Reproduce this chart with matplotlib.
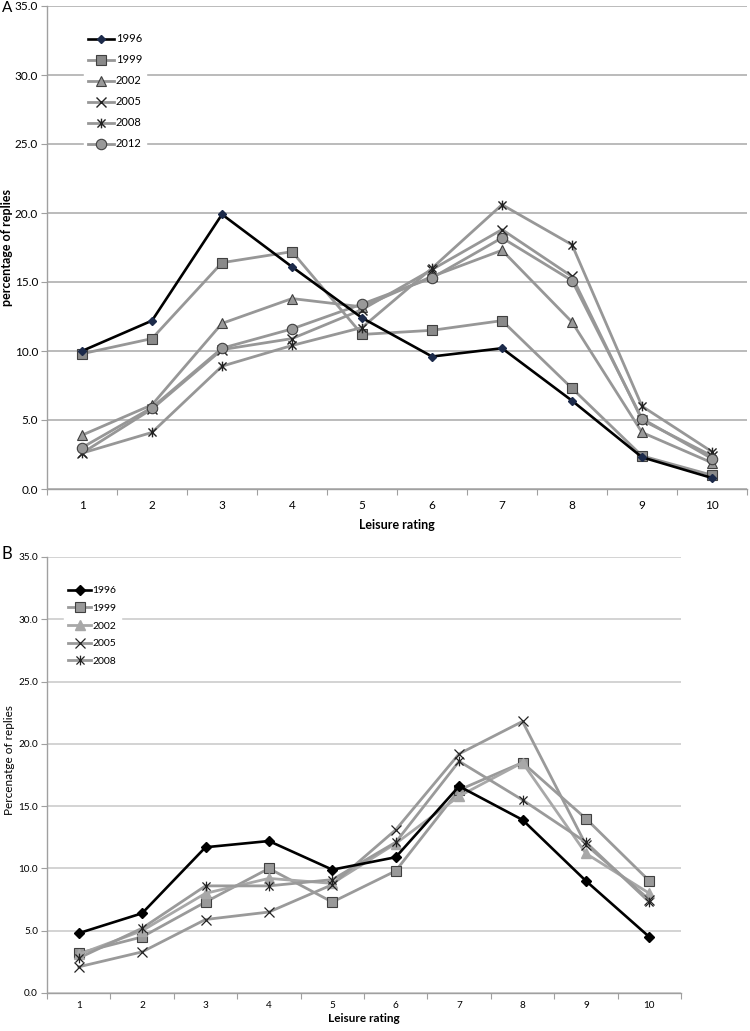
import matplotlib
matplotlib.use("Agg")
import matplotlib.pyplot as plt
import numpy as np
from matplotlib.path import Path

plt.rcParams['font.family'] = ['Lato', 'DejaVu Sans']

ratings = list(range(1, 11))

# panel A
years_a = ['1996', '1999', '2002', '2005', '2008', '2012']
a_1996 = [10.0, 12.2, 19.9, 16.1, 12.4, 9.6, 10.2, 6.4, 2.3, 0.8]
a_1999 = [9.8, 10.9, 16.4, 17.2, 11.2, 11.5, 12.2, 7.3, 2.4, 1.0]
a_2002 = [3.9, 6.1, 12.0, 13.8, 13.2, 15.4, 17.3, 12.1, 4.1, 1.9]
a_2005 = [2.6, 5.8, 10.1, 10.9, 13.0, 15.9, 18.8, 15.4, 5.0, 2.4]
a_2008 = [2.6, 4.1, 8.9, 10.4, 11.7, 16.0, 20.6, 17.7, 6.0, 2.7]
a_2012 = [3.0, 5.9, 10.2, 11.6, 13.4, 15.3, 18.2, 15.1, 5.1, 2.2]

# panel B
years_b = ['1996', '1999', '2002', '2005', '2008']
b_1996 = [4.8, 6.4, 11.7, 12.2, 9.9, 10.9, 16.6, 13.9, 9.0, 4.5]
b_1999 = [3.2, 4.5, 7.3, 10.0, 7.3, 9.8, 16.3, 18.5, 14.0, 9.0]
b_2002 = [3.1, 5.0, 8.0, 9.2, 8.8, 12.0, 15.8, 18.5, 11.2, 8.0]
b_2005 = [2.1, 3.3, 5.9, 6.5, 8.7, 13.1, 19.2, 21.8, 11.9, 7.5]
b_2008 = [2.8, 5.2, 8.6, 8.6, 9.1, 12.1, 18.6, 15.5, 12.1, 7.3]

# excel style "star": an x with a vertical bar
star = Path([(-1, -1), (1, 1), (-1, 1), (1, -1), (0, -1.2), (0, 1.2)],
            [Path.MOVETO, Path.LINETO, Path.MOVETO, Path.LINETO, Path.MOVETO, Path.LINETO])

W, H = 750, 1031
fig = plt.figure(figsize=(W/100, H/100), dpi=100)


def px_axes(x0, x1, y0, y1):
    return fig.add_axes([x0/W, 1 - y1/H, (x1 - x0)/W, (y1 - y0)/H])


def style_axes(ax, grid_c, tick_pad, size):
    ax.set_xlim(0.5, 10.5)
    ax.set_ylim(0, 35)
    ax.set_yticks(np.arange(0, 36, 5))
    ax.set_yticklabels(['%.1f' % v for v in np.arange(0, 36, 5)])
    ax.set_xticks(np.arange(0.5, 11, 1))
    ax.set_xticklabels([])
    ax.set_xticks(ratings, minor=True)
    ax.set_xticklabels([str(r) for r in ratings], minor=True)
    ax.tick_params(axis='x', which='minor', length=0, pad=tick_pad, labelsize=size)
    ax.tick_params(axis='x', which='major', length=4.5, color='#a0a0a0', direction='out')
    ax.tick_params(axis='y', length=4.5, color='#a0a0a0', labelsize=size, pad=2)
    ax.yaxis.grid(True, color=grid_c, lw=1.1)
    ax.set_axisbelow(True)
    for s in ['top', 'right']:
        ax.spines[s].set_visible(False)
    for s in ['left', 'bottom']:
        ax.spines[s].set_color('#a0a0a0')
        ax.spines[s].set_linewidth(1.0)


# ---------------- panel A
axA = px_axes(47, 747, 6, 489)
style_axes(axA, '#a8a8a8', 8, 8.5)
g = '#979797'
axA.plot(ratings, a_1996, color='black', lw=1.9, marker='D', ms=4,
         mfc='#1c2a4a', mec='#1c2a4a', label=years_a[0], zorder=5)
axA.plot(ratings, a_1999, color=g, lw=2, marker='s', ms=7.5,
         mfc='#8a8a8a', mec='#404040', mew=0.8, label=years_a[1])
axA.plot(ratings, a_2002, color=g, lw=2, marker='^', ms=7.5,
         mfc='#999999', mec='#404040', mew=0.8, label=years_a[2])
axA.plot(ratings, a_2005, color=g, lw=2, marker='x', ms=7,
         mec='#222222', mew=1.0, label=years_a[3])
axA.plot(ratings, a_2008, color=g, lw=2, marker=star, ms=7,
         mfc='none', mec='#222222', mew=1.0, label=years_a[4])
axA.plot(ratings, a_2012, color=g, lw=2, marker='o', ms=7.5,
         mfc='#999999', mec='#404040', mew=0.8, label=years_a[5])
axA.set_xlabel('Leisure rating', fontsize=9, fontweight='bold', labelpad=6)
fig.text(7/W, 1 - 248/H, 'percentage of replies', fontsize=9, fontweight='bold',
         rotation=90, ha='center', va='center')
axA.legend(loc='upper left', bbox_to_anchor=(84/W, 1 - 29/H), bbox_transform=fig.transFigure,
           frameon=True, fancybox=False, edgecolor='white', facecolor='white', framealpha=1,
           fontsize=8, handlelength=2.3, handletextpad=0.15, labelspacing=0.9,
           borderpad=0.4, borderaxespad=0)
fig.text(7/W, 1 - 8/H, 'A', fontsize=11, va='center', ha='center')

# ---------------- panel B
axB = px_axes(47, 681, 557, 993)
style_axes(axB, '#c8c8c8', 6, 7.2)
g2 = '#9a9a9a'
axB.plot(ratings, b_1996, color='black', lw=1.9, marker='D', ms=5,
         mfc='black', mec='black', label=years_b[0], zorder=5)
axB.plot(ratings, b_1999, color=g2, lw=2, marker='s', ms=7,
         mfc='#999999', mec='#404040', mew=0.8, label=years_b[1])
axB.plot(ratings, b_2002, color='#a8a8a8', lw=2, marker='^', ms=7,
         mfc='#a8a8a8', mec='#a8a8a8', label=years_b[2])
axB.plot(ratings, b_2005, color=g2, lw=2, marker='x', ms=7,
         mec='#222222', mew=0.9, label=years_b[3])
axB.plot(ratings, b_2008, color=g2, lw=2, marker=star, ms=7,
         mfc='none', mec='#222222', mew=0.9, label=years_b[4])
axB.set_xlabel('Leisure rating', fontsize=8.5, fontweight='bold', labelpad=2)
fig.text(10/W, 1 - 760/H, 'Percenatge of replies', fontsize=8.5,
         rotation=90, ha='center', va='center')
axB.legend(loc='upper left', bbox_to_anchor=(64/W, 1 - 582/H), bbox_transform=fig.transFigure,
           frameon=True, fancybox=False, edgecolor='white', facecolor='white', framealpha=1,
           fontsize=7.5, handlelength=2.2, handletextpad=0.15, labelspacing=0.8,
           borderpad=0.4, borderaxespad=0)
fig.text(7/W, 1 - 554/H, 'B', fontsize=12, va='center', ha='center')

fig.savefig('out.png', dpi=100)
